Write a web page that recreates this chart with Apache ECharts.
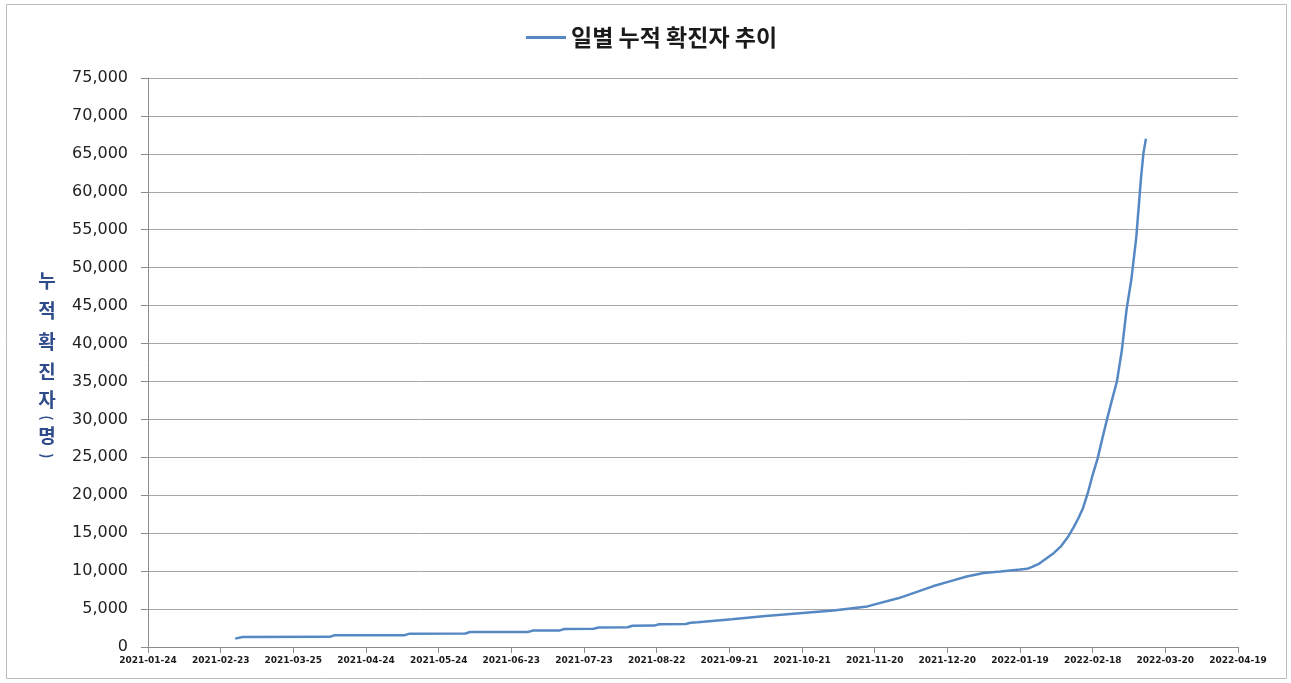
<!DOCTYPE html>
<html>
<head>
<meta charset="utf-8">
<script src="https://cdn.jsdelivr.net/npm/echarts@6/dist/echarts.min.js"></script>
<style>
html,body{margin:0;padding:0;background:#fff;}
#chart{width:1291px;height:683px;}
</style>
</head>
<body>
<div id="chart"></div>
<script>
const seriesName = '일별 누적 확진자 추이';
const yAxisTitle = ['누','적','확','진','자','(','명',')'];
const xTickLabels = ['2021-01-24','2021-02-23','2021-03-25','2021-04-24','2021-05-24','2021-06-23','2021-07-23','2021-08-22','2021-09-21','2021-10-21','2021-11-20','2021-12-20','2022-01-19','2022-02-18','2022-03-20','2022-04-19'];
const dates = [
 '2021-03-01','2021-03-04','2021-04-09','2021-04-11','2021-05-10','2021-05-12','2021-06-04','2021-06-06',
 '2021-06-30','2021-07-02','2021-07-13','2021-07-15','2021-07-27','2021-07-29','2021-08-10','2021-08-12',
 '2021-08-21','2021-08-23','2021-09-03','2021-09-05','2021-09-08','2021-09-22','2021-10-06','2021-10-20',
 '2021-11-03','2021-11-17','2021-11-30','2021-12-14','2021-12-21','2021-12-28','2022-01-04','2022-01-11',
 '2022-01-19','2022-01-22','2022-01-24','2022-01-27','2022-01-30','2022-02-02','2022-02-05','2022-02-08',
 '2022-02-10','2022-02-12','2022-02-14','2022-02-16','2022-02-18','2022-02-20','2022-02-22','2022-02-24',
 '2022-02-26','2022-02-28','2022-03-02','2022-03-04','2022-03-06','2022-03-08','2022-03-10','2022-03-11','2022-03-12'
];
const values = [
 1100,1320,1340,1540,1560,1760,1780,1970,
 1990,2170,2190,2380,2400,2580,2600,2800,
 2820,3000,3030,3200,3260,3650,4100,4450,
 4800,5350,6450,8000,8650,9300,9750,9950,
 10200,10300,10550,11000,11700,12400,13300,14600,
 15700,16900,18300,20300,22700,24800,27500,30100,
 32600,35000,39000,44500,48500,54000,62000,65200,67000
];

function dayIndex(s){
  const p = s.split('-').map(Number);
  const b = xTickLabels[0].split('-').map(Number);
  return (Date.UTC(p[0],p[1]-1,p[2]) - Date.UTC(b[0],b[1]-1,b[2]))/86400000;
}
const lineData = dates.map((d,i)=>[dayIndex(d), values[i]]);
const xMax = dayIndex(xTickLabels[xTickLabels.length-1]);

// vertical axis title: stacked characters, parentheses turned sideways
const titleOffsets = [0,30,61,91,119,137,155,175];
const titleColor = '#2E4C8A';
const titleChildren = yAxisTitle.map((c,i)=>{
  const isParen = (c==='('||c===')');
  return {
    type:'text', x:0, y:titleOffsets[i],
    rotation: isParen ? -Math.PI/2 : 0,
    style:{text:c, fill:titleColor, fontSize: isParen?14:19, fontWeight:'bold',
      fontFamily:'Noto Sans CJK KR', align:'center', verticalAlign:'middle'}
  };
});

const chart = echarts.init(document.getElementById('chart'));
chart.setOption({
  animation:false,
  backgroundColor:'#fff',
  graphic:[
    {type:'rect',shape:{x:6.5,y:4.5,width:1280,height:674},style:{fill:'none',stroke:'#BDBDBD',lineWidth:1},silent:true},
    {type:'group',x:47,y:281,children:titleChildren,silent:true}
  ],
  legend:{
    top:21,left:521,
    data:[{name:seriesName,icon:'rect'}],
    itemWidth:40,itemHeight:3,itemGap:10,
    textStyle:{fontSize:23,fontWeight:'bold',color:'#1a1a1a',fontFamily:'Noto Sans CJK KR'}
  },
  grid:{left:148,right:53,top:78,bottom:36,containLabel:false},
  xAxis:{
    type:'value',min:0,max:xMax,interval:30,
    axisLine:{show:true,lineStyle:{color:'#8C8C8C',width:1}},
    axisTick:{show:true,length:6,lineStyle:{color:'#8C8C8C'}},
    splitLine:{show:false},
    axisLabel:{margin:9,fontSize:9,fontWeight:'bold',color:'#1a1a1a',fontFamily:'DejaVu Sans',
      formatter:(v)=>xTickLabels[Math.round(v/30)]||''}
  },
  yAxis:{
    type:'value',min:0,max:75000,interval:5000,
    axisLine:{show:true,lineStyle:{color:'#8C8C8C',width:1}},
    axisTick:{show:true,length:7,lineStyle:{color:'#8C8C8C'}},
    splitLine:{show:true,lineStyle:{color:'#A6A6A6',width:1}},
    axisLabel:{margin:20,fontSize:16,color:'#222',fontFamily:'DejaVu Sans',
      formatter:(v)=>v.toLocaleString('en-US')}
  },
  series:[{
    name:seriesName,type:'line',data:lineData,showSymbol:false,smooth:false,
    lineStyle:{color:'#5689C4',width:2.5},itemStyle:{color:'#5689C4'}
  }]
});
</script>
</body>
</html>
